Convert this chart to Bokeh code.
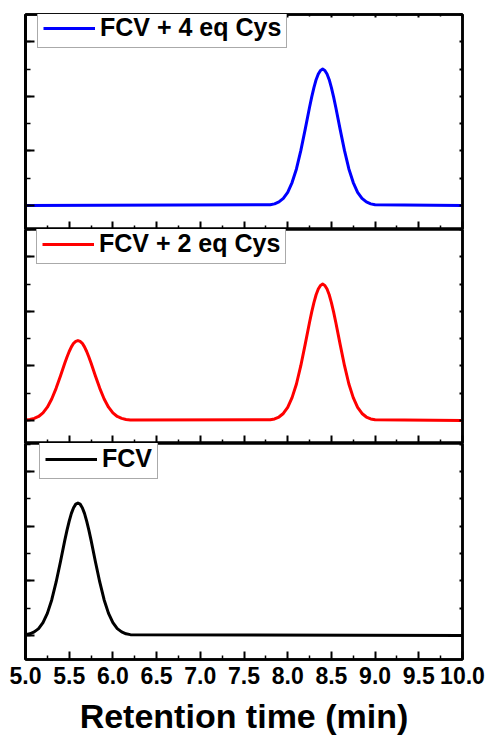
from bokeh.plotting import figure
from bokeh.models import (Range1d, LinearAxis, Legend, LegendItem, FixedTicker,
                          SingleIntervalTicker, CustomJSTickFormatter)
from bokeh.layouts import column
from bokeh.embed import file_html
from bokeh.resources import INLINE

# ---------------- data ----------------
# FCV + 4 eq Cys (blue)
time_4eq = [5.00, 7.80, 7.85, 7.90, 7.95, 8.00, 8.05, 8.10, 8.15, 8.20, 8.25, 8.275, 8.30,
            8.325, 8.35, 8.375, 8.40, 8.425, 8.45, 8.475, 8.50, 8.525, 8.55, 8.60, 8.65,
            8.70, 8.75, 8.80, 8.85, 8.90, 8.95, 9.00, 10.00]
signal_4eq = [0.00, 0.03, 0.06, 0.13, 0.26, 0.48, 0.84, 1.34, 2.01, 2.79, 3.60, 3.98, 4.32,
              4.61, 4.82, 4.95, 5.00, 4.95, 4.82, 4.61, 4.32, 3.98, 3.60, 2.79, 2.01,
              1.34, 0.84, 0.48, 0.26, 0.13, 0.06, 0.03, 0.00]

# FCV + 2 eq Cys (red)
time_2eq = [5.00, 5.05, 5.10, 5.15, 5.20, 5.25, 5.30, 5.35, 5.40, 5.45, 5.475, 5.50,
            5.525, 5.55, 5.575, 5.60, 5.625, 5.65, 5.675, 5.70, 5.725, 5.75, 5.80, 5.85,
            5.90, 5.95, 6.00, 6.05, 6.10, 6.15, 6.20,
            7.80, 7.85, 7.90, 7.95, 8.00, 8.05, 8.10, 8.15, 8.20, 8.25, 8.275, 8.30,
            8.325, 8.35, 8.375, 8.40, 8.425, 8.45, 8.475, 8.50, 8.525, 8.55, 8.60, 8.65,
            8.70, 8.75, 8.80, 8.85, 8.90, 8.95, 9.00, 10.00]
signal_2eq = [0.02, 0.04, 0.08, 0.15, 0.28, 0.49, 0.79, 1.18, 1.63, 2.11, 2.33, 2.53,
              2.70, 2.83, 2.90, 2.93, 2.90, 2.83, 2.70, 2.53, 2.33, 2.11, 1.63, 1.18,
              0.79, 0.49, 0.28, 0.15, 0.08, 0.04, 0.02,
              0.03, 0.06, 0.13, 0.26, 0.48, 0.84, 1.34, 2.01, 2.79, 3.60, 3.98, 4.32,
              4.61, 4.82, 4.95, 5.00, 4.95, 4.82, 4.61, 4.32, 3.98, 3.60, 2.79, 2.01,
              1.34, 0.84, 0.48, 0.26, 0.13, 0.06, 0.03, 0.00]

# FCV (black)
time_fcv = [5.00, 5.05, 5.10, 5.15, 5.20, 5.25, 5.30, 5.35, 5.40, 5.45, 5.475, 5.50,
            5.525, 5.55, 5.575, 5.60, 5.625, 5.65, 5.675, 5.70, 5.725, 5.75, 5.80, 5.85,
            5.90, 5.95, 6.00, 6.05, 6.10, 6.15, 6.20, 10.00]
signal_fcv = [0.03, 0.06, 0.13, 0.25, 0.47, 0.81, 1.30, 1.95, 2.70, 3.49, 3.86, 4.19,
              4.47, 4.68, 4.81, 4.85, 4.81, 4.68, 4.47, 4.19, 3.86, 3.49, 2.70, 1.95,
              1.30, 0.81, 0.47, 0.25, 0.13, 0.06, 0.03, 0.00]

series_labels = ["FCV + 4 eq Cys", "FCV + 2 eq Cys", "FCV"]
series_colors = ["#0000FF", "#FF0000", "#000000"]

x_ticks = [5.0, 5.5, 6.0, 6.5, 7.0, 7.5, 8.0, 8.5, 9.0, 9.5, 10.0]
x_tick_labels = ["5.0", "5.5", "6.0", "6.5", "7.0", "7.5", "8.0", "8.5", "9.0", "9.5", "10.0"]
x_title = "Retention time (min)"

# ---------------- styling / layout ----------------
FONT = "Liberation Sans"
W = 486
LEFT = 25
RIGHT = 24
x_minor = [t + 0.25 for t in x_ticks[:-1]]
x_ticker = FixedTicker(ticks=x_ticks, minor_ticks=x_minor)
blank = CustomJSTickFormatter(code="return ''")


def style_inner_axis(ax, tick_major=8, tick_minor=4):
    ax.axis_line_color = "black"
    ax.axis_line_width = 2.5
    ax.major_tick_in = tick_major
    ax.major_tick_out = 0
    ax.minor_tick_in = tick_minor
    ax.minor_tick_out = 0
    ax.major_tick_line_width = 2
    ax.minor_tick_line_width = 1.5
    ax.major_tick_line_color = "black"
    ax.minor_tick_line_color = "black"


def make_panel(xs, ys, label, color, y0, y1, height, top_border, bottom_border,
               show_labels, legend_loc, with_top_axis):
    p = figure(width=W, height=height, output_backend="svg", toolbar_location=None,
               x_range=Range1d(5.0, 10.0), y_range=Range1d(y0, y1),
               x_axis_location=None, y_axis_location=None,
               min_border_left=LEFT, min_border_right=RIGHT,
               min_border_top=top_border, min_border_bottom=bottom_border)
    p.xgrid.visible = False
    p.ygrid.visible = False
    p.outline_line_color = "black"
    p.outline_line_width = 2.5
    p.background_fill_color = "white"
    p.border_fill_color = "white"

    r = p.line(xs, ys, line_color=color, line_width=3, line_join="round")

    # bottom axis
    xb = LinearAxis(ticker=x_ticker)
    style_inner_axis(xb, 8, 4)
    if show_labels:
        xb.major_label_overrides = {t: s for t, s in zip(x_ticks, x_tick_labels)}
        xb.major_label_text_font = FONT
        xb.major_label_text_font_style = "bold"
        xb.major_label_text_font_size = "23px"
        xb.major_label_text_color = "black"
        xb.major_label_standoff = 7
        xb.axis_label = x_title
        xb.axis_label_text_font = FONT
        xb.axis_label_text_font_style = "bold"
        xb.axis_label_text_font_size = "34px"
        xb.axis_label_text_color = "black"
        xb.axis_label_standoff = 10
    else:
        xb.formatter = blank
        xb.major_label_standoff = 0
    p.add_layout(xb, "below")

    # left axis
    yl = LinearAxis(ticker=SingleIntervalTicker(interval=2, num_minor_ticks=2),
                    formatter=blank, major_label_standoff=0)
    style_inner_axis(yl, 9, 5)
    yl.axis_line_width = 3
    p.add_layout(yl, "left")

    # right axis (small inner ticks)
    yr = LinearAxis(ticker=SingleIntervalTicker(interval=1, num_minor_ticks=0),
                    formatter=blank, major_label_standoff=0)
    style_inner_axis(yr, 3, 0)
    p.add_layout(yr, "right")

    if with_top_axis:
        xt = LinearAxis(ticker=x_ticker, formatter=blank, major_label_standoff=0)
        style_inner_axis(xt, 3, 2)
        p.add_layout(xt, "above")

    leg = Legend(items=[LegendItem(label=label, renderers=[r])],
                 location=legend_loc,
                 label_text_font=FONT, label_text_font_style="bold",
                 label_text_font_size="25px", label_text_color="black",
                 glyph_width=52, glyph_height=24, label_height=24,
                 label_standoff=5, padding=5, spacing=0, margin=0,
                 border_line_color="#555555", border_line_width=1.5,
                 background_fill_color="white", background_fill_alpha=1.0)
    p.add_layout(leg)
    return p


p1 = make_panel(time_4eq, signal_4eq, series_labels[0], series_colors[0],
                -0.88, 7.0, 229, 14, 0, False, (12, 181), True)
p2 = make_panel(time_2eq, signal_2eq, series_labels[1], series_colors[1],
                -0.84, 7.0, 214, 0, 0, False, (11, 179), False)
p3 = make_panel(time_fcv, signal_fcv, series_labels[2], series_colors[2],
                -0.88, 7.03, 297, 0, 81, True, (14, 180), False)

layout = column(p1, p2, p3, spacing=0)

open("out.html", "w").write(file_html(layout, INLINE))
